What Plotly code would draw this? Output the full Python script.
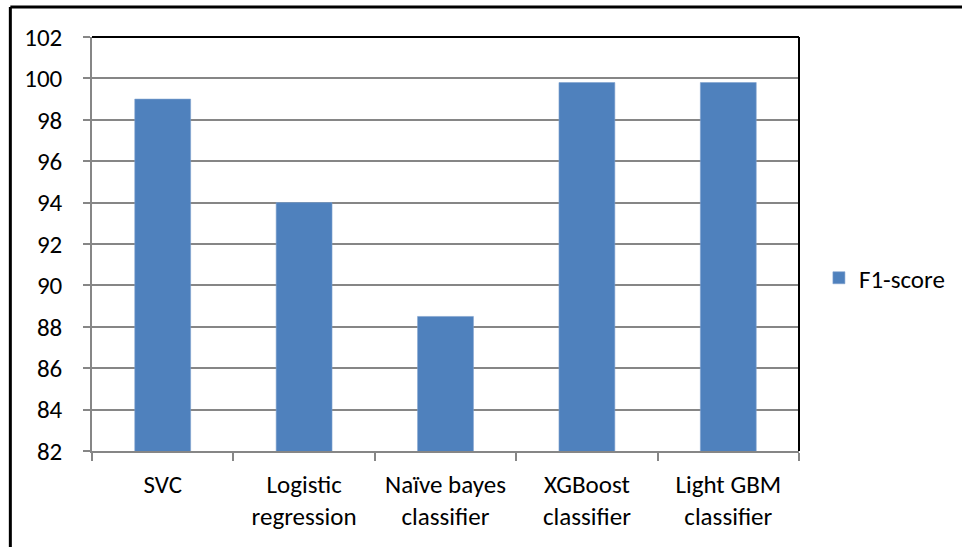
import plotly.graph_objects as go

# Classifier comparison: F1-score per model
categories = ["SVC", "Logistic<br>regression", "Naïve bayes<br>classifier",
              "XGBoost<br>classifier", "Light GBM<br>classifier"]
f1_scores = [99.0, 94.0, 88.5, 99.8, 99.8]
y_ticks = [82, 84, 86, 88, 90, 92, 94, 96, 98, 100, 102]

FONT = "Carlito, Lato, 'Liberation Sans', sans-serif"
BAR = "#4F81BD"
GRID = "#868686"

W, H = 962, 547
L, R, T, B = 92, 160, 37, 96
pw, ph = W - L - R, H - T - B


def px_x(p):
    return (p - L) / pw


def px_y(p):
    return (H - B - p) / ph


fig = go.Figure()
fig.add_trace(go.Bar(
    x=categories, y=f1_scores, name="F1-score",
    marker=dict(color=BAR, line=dict(color="#7FA1CF", width=0.6)),
    showlegend=True,
))

fig.update_layout(
    width=W, height=H,
    margin=dict(l=L, r=R, t=T, b=B, pad=0),
    paper_bgcolor="white", plot_bgcolor="white",
    font=dict(family=FONT, size=25, color="black"),
    bargap=0.605,
    showlegend=True,
    legend=dict(x=px_x(822), y=px_y(278), xanchor="left", yanchor="middle",
                font=dict(size=25), itemwidth=30, bgcolor="rgba(0,0,0,0)"),
    xaxis=dict(
        type="category", tickson="boundaries", ticks="outside", ticklen=8,
        tickcolor=GRID, tickwidth=1.5, showline=True, linecolor=GRID, linewidth=1.5,
        showgrid=False, ticklabelstandoff=10, tickangle=0,
    ),
    yaxis=dict(
        range=[82, 102], tickvals=y_ticks, ticks="outside", ticklen=7,
        tickcolor=GRID, tickwidth=1.5, showline=True, linecolor=GRID, linewidth=1.5,
        showgrid=True, gridcolor=GRID, gridwidth=1.5, zeroline=False,
        ticklabelstandoff=16,
    ),
    shapes=[
        # plot-area frame on the top and right
        dict(type="line", xref="paper", yref="paper", x0=0, x1=1, y0=1, y1=1,
             line=dict(color="black", width=2)),
        dict(type="line", xref="paper", yref="paper", x0=1, x1=1, y0=0, y1=1,
             line=dict(color="black", width=2)),
        # chart-area frame on the left and top
        dict(type="line", xref="paper", yref="paper", x0=px_x(10), x1=px_x(10),
             y0=px_y(H + 5), y1=px_y(7), line=dict(color="black", width=3)),
        dict(type="line", xref="paper", yref="paper", x0=px_x(10), x1=px_x(W + 5),
             y0=px_y(7), y1=px_y(7), line=dict(color="black", width=3)),
    ],
)

fig.write_html("out.html")
